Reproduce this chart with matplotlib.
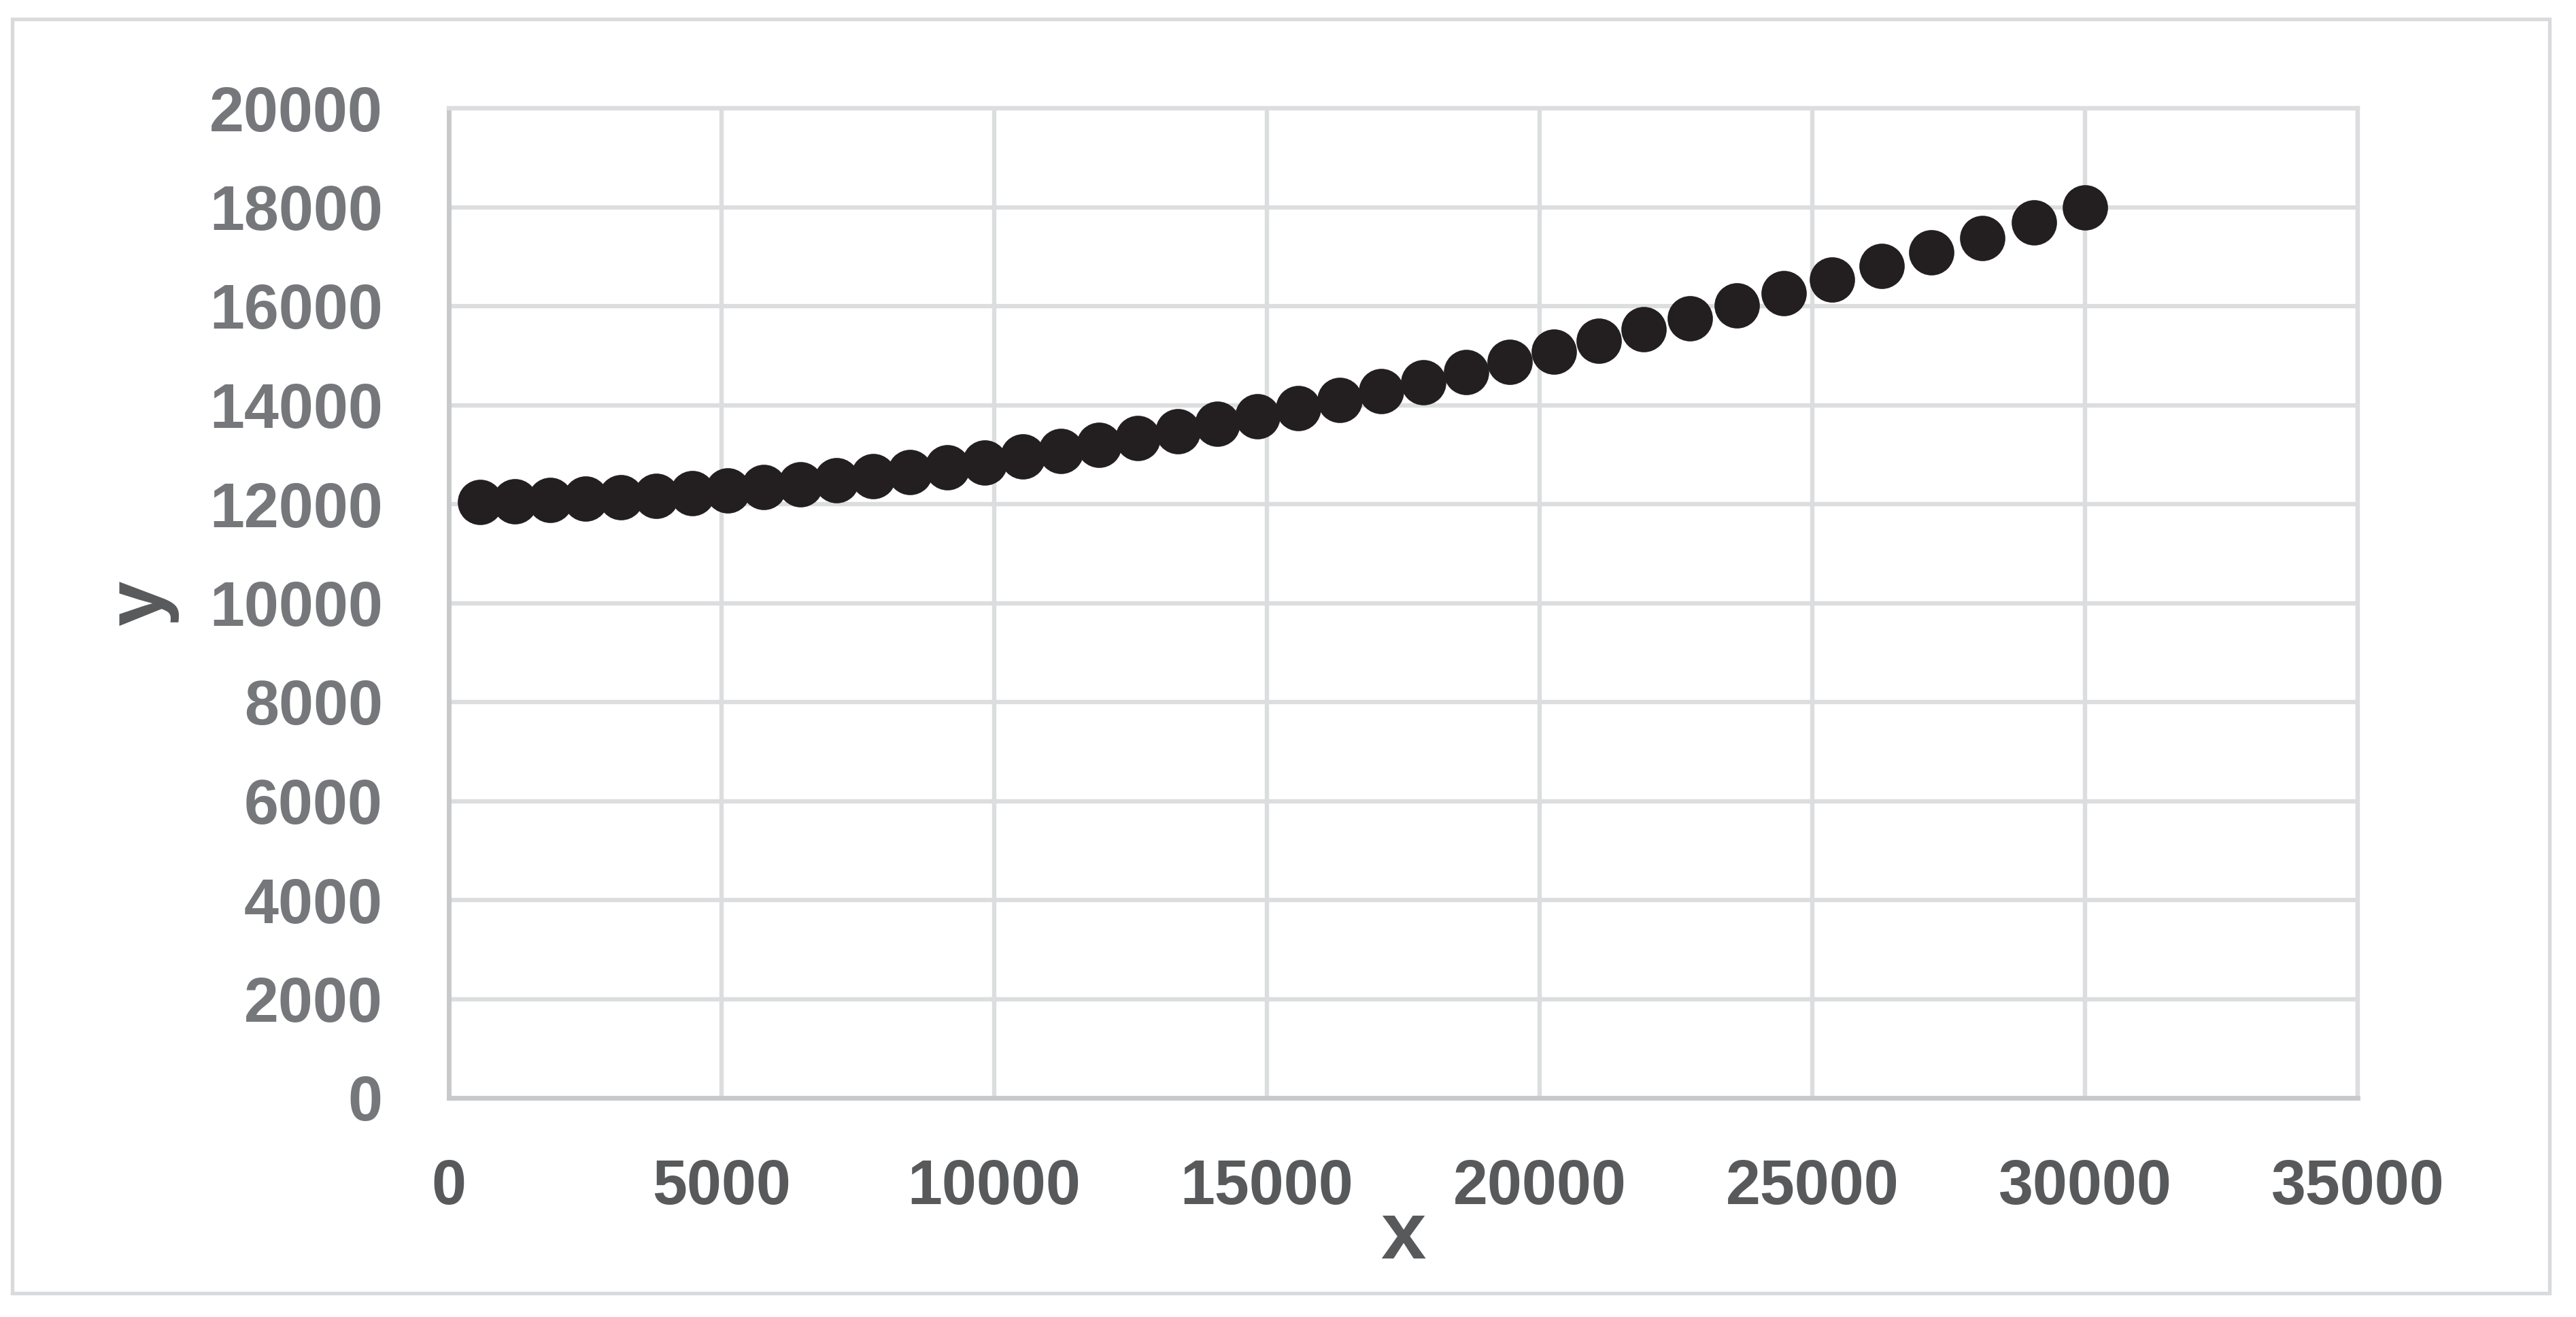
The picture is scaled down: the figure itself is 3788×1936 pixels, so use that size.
import matplotlib
matplotlib.use("Agg")
import matplotlib.pyplot as plt
from matplotlib.patches import Rectangle

# data
x_vals = [570, 1213, 1858, 2502, 3151, 3803, 4460, 5112, 5777, 6443,
          7107, 7784, 8458, 9136, 9829, 10524, 11222, 11920, 12635, 13363,
          14090, 14829, 15577, 16334, 17091, 17872, 18653, 19451, 20262, 21081,
          21912, 22756, 23612, 24480, 25365, 26268, 27182, 28113, 29061, 30000]
y_vals = [12041, 12059, 12076, 12106, 12133, 12169, 12223, 12275, 12339, 12403,
          12477, 12561, 12650, 12745, 12845, 12958, 13076, 13200, 13329, 13467,
          13618, 13769, 13934, 14103, 14286, 14467, 14662, 14869, 15083, 15303,
          15528, 15759, 16010, 16265, 16532, 16807, 17090, 17379, 17687, 18000]
x_ticks = [0, 5000, 10000, 15000, 20000, 25000, 30000, 35000]
y_ticks = [0, 2000, 4000, 6000, 8000, 10000, 12000, 14000, 16000, 18000, 20000]

plt.rcParams['font.family'] = ['Liberation Sans', 'DejaVu Sans']
plt.rcParams['font.weight'] = 'bold'

W, H = 3788, 1936
fig = plt.figure(figsize=(W / 200, H / 200), dpi=200)
fig.patch.set_facecolor('white')

# outer chart border
fig.patches.append(Rectangle((18 / W, 1 - 1901 / H), (3749 - 18) / W, (1901 - 28) / H,
                             transform=fig.transFigure, fill=False,
                             edgecolor='#d9dadc', linewidth=1.9))

ax = fig.add_axes([660 / W, 1 - 1614 / H, (3467 - 660) / W, (1614 - 159) / H])

grid_color = '#dcdddf'
ax.set_xlim(0, 35000)
ax.set_ylim(0, 20000)
ax.set_xticks(x_ticks)
ax.set_yticks(y_ticks)
ax.set_xticklabels([str(v) for v in x_ticks], color='#58595b', fontsize=33, fontweight='bold')
ax.set_yticklabels([str(v) for v in y_ticks], color='#76777b', fontsize=33, fontweight='bold')
ax.tick_params(axis='both', length=0)
ax.tick_params(axis='x', pad=32)
ax.tick_params(axis='y', pad=35)
ax.grid(True, color=grid_color, linewidth=2.3)
ax.set_axisbelow(True)

for side in ['top', 'right']:
    ax.spines[side].set_color(grid_color)
    ax.spines[side].set_linewidth(2.3)
for side in ['left', 'bottom']:
    ax.spines[side].set_color('#c8c9cb')
    ax.spines[side].set_linewidth(2.5)

ax.plot(x_vals, y_vals, linestyle='none', marker='o', markersize=24,
        color='#231f20', markeredgewidth=0, clip_on=False, zorder=3)

ax.set_xlabel('x', fontsize=43, fontweight='bold', color='#58595b', labelpad=-9)
ax.set_ylabel('y', fontsize=43, fontweight='bold', color='#58595b', labelpad=16)

fig.savefig('out.png', dpi=200, facecolor='white')
